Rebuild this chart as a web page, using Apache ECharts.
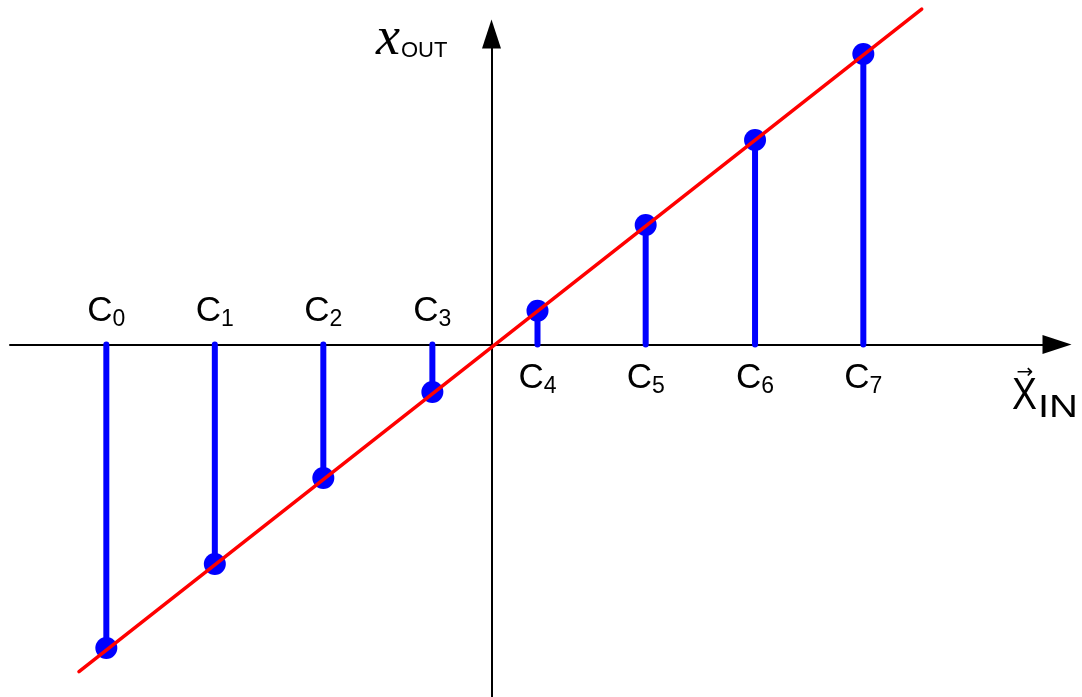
<!DOCTYPE html>
<html>
<head>
<meta charset="utf-8">
<script src="https://cdn.jsdelivr.net/npm/echarts@6/dist/echarts.min.js"></script>
<style>
  html, body { margin: 0; padding: 0; background: #fff; }
  #chart-container { width: 1082px; height: 697px; }
</style>
</head>
<body>
<div id="chart-container"></div>
<script>
// sample positions on the input axis and the quantized output values
var labels = ['0', '1', '2', '3', '4', '5', '6', '7'];
var xIn = [-3.55, -2.55, -1.55, -0.545, 0.424, 1.421, 2.429, 3.427];
var xOut = [-2.797, -2.023, -1.230, -0.438, 0.312, 1.101, 1.885, 2.677];
// ideal transfer line x_out = k * x_in
var lineX = [-3.802, 3.965];
var lineY = [-3.016, 3.092];

var dom = document.getElementById('chart-container');
var myChart = echarts.init(dom, null, { renderer: 'canvas' });

var pts = xIn.map(function (x, i) { return [x, xOut[i]]; });
var linePts = lineX.map(function (x, i) { return [x, lineY[i]]; });

var option = {
  animation: false,
  grid: { left: 10, right: 25, top: 34, bottom: 0, containLabel: false },
  xAxis: {
    type: 'value',
    min: -4.4378,
    max: 5.2120,
    axisLine: {
      onZero: true,
      symbol: ['none', 'triangle'],
      symbolSize: [19, 29],
      lineStyle: { color: '#000', width: 2 }
    },
    axisTick: { show: false },
    axisLabel: { show: false },
    splitLine: { show: false }
  },
  yAxis: {
    type: 'value',
    min: -3.2488,
    max: 2.8618,
    axisLine: {
      onZero: true,
      symbol: ['none', 'triangle'],
      symbolSize: [19, 29],
      lineStyle: { color: '#000', width: 2 }
    },
    axisTick: { show: false },
    axisLabel: { show: false },
    splitLine: { show: false }
  },
  series: [
    {
      // stems + C_i labels on the input axis
      type: 'custom',
      z: 3,
      data: pts,
      renderItem: function (params, api) {
        var p0 = api.coord([api.value(0), 0]);
        var p1 = api.coord([api.value(0), api.value(1)]);
        var dy = api.value(1) < 0 ? -33 : 34;
        return {
          type: 'group',
          children: [
            {
              type: 'line',
              shape: { x1: p0[0], y1: p0[1], x2: p1[0], y2: p1[1] },
              style: { stroke: '#0000ff', lineWidth: 6, lineCap: 'round' }
            },
            {
              type: 'text',
              x: p0[0],
              y: p0[1] + dy,
              style: {
                text: '{c|C}{s|' + labels[params.dataIndex] + '}',
                align: 'center',
                verticalAlign: 'middle',
                fill: '#000',
                rich: {
                  c: { fontSize: 35, fontFamily: '"Liberation Sans", Arial', fill: '#000' },
                  s: { fontSize: 23, fontFamily: '"Liberation Sans", Arial', fill: '#000', padding: [17, 0, 0, 0] }
                }
              }
            }
          ]
        };
      }
    },
    {
      type: 'scatter',
      z: 4,
      data: pts,
      symbolSize: 22,
      itemStyle: { color: '#0000ff', opacity: 1 }
    },
    {
      type: 'line',
      z: 5,
      data: linePts,
      clip: false,
      symbol: 'none',
      lineStyle: { color: '#ff0000', width: 3.5, cap: 'round' }
    }
  ],
  graphic: [
    { type: 'text', z: 10, style: { text: 'x', x: 376, y: 40, font: 'italic 54px "Liberation Serif"', fill: '#000', verticalAlign: 'middle' } },
    { type: 'text', z: 10, style: { text: 'OUT', x: 401, y: 50.5, font: '22px "Liberation Sans"', fill: '#000', verticalAlign: 'middle' } },
    { type: 'text', z: 10, x: 1012, scaleX: 0.85, style: { text: 'X', x: 0, y: 397, font: '44px "Liberation Sans"', fill: '#000', verticalAlign: 'middle' } },
    { type: 'text', z: 10, x: 1038, scaleX: 1.25, style: { text: 'IN', x: 0, y: 408, font: '32px "Liberation Sans"', fill: '#000', verticalAlign: 'middle' } },
    { type: 'text', z: 10, style: { text: '\u2192', x: 1025, y: 373, font: '20px "DejaVu Sans"', fill: '#000', align: 'center', verticalAlign: 'middle' } }
  ]
};

myChart.setOption(option);
window.addEventListener('resize', myChart.resize);
</script>
</body>
</html>
